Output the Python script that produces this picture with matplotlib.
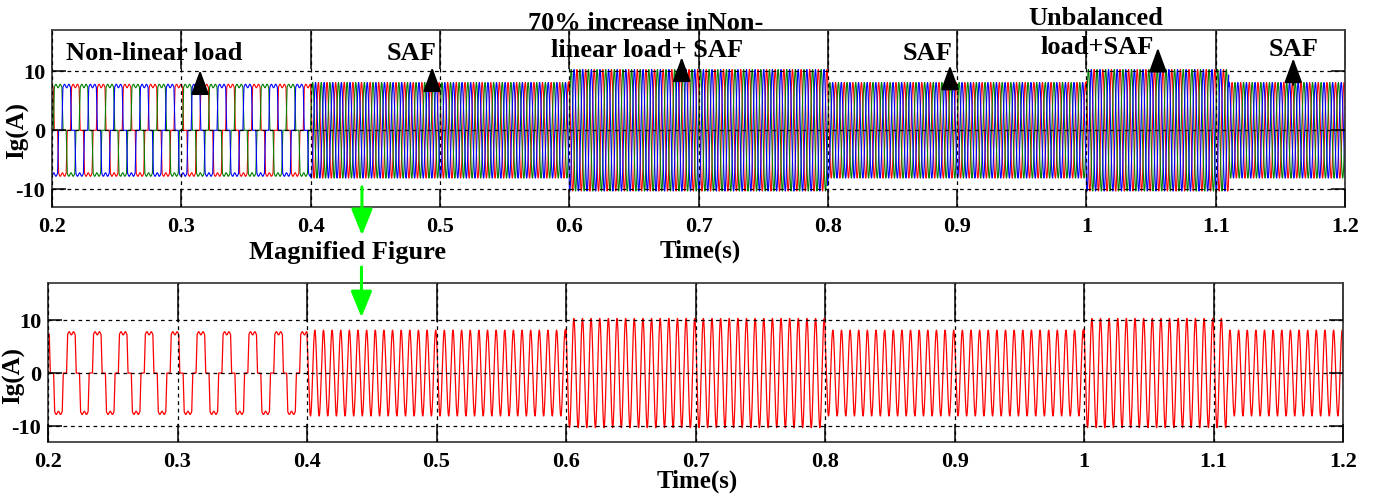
import numpy as np
import matplotlib
matplotlib.use('Agg')
import matplotlib.pyplot as plt
from matplotlib.ticker import FormatStrFormatter

# operating intervals of the run: start, end, peak current (A), waveform shape
seg_start = [0.2, 0.4, 0.6, 0.8, 1.0, 1.11]
seg_end = [0.4, 0.6, 0.8, 1.0, 1.11, 1.2]
seg_amp = [7.5, 8.1, 10.3, 8.1, 10.3, 8.1]
seg_shape = ['rect', 'sine', 'sine', 'sine', 'sine', 'sine']

# three grid phases
phase_colors = ['#ff0000', '#008000', '#0000ff']
phase_shift = [0, -120, 120]
red_phase_deg = 126

f_load = 50       # Hz, rectifier current
f_trace = 150     # Hz, compensated current as recorded
overlap_deg = 14  # commutation overlap of the rectifier pulses
ripple = 0.04

xticks = [0.2, 0.3, 0.4, 0.5, 0.6, 0.7, 0.8, 0.9, 1.0, 1.1, 1.2]
yticks = [-10, 0, 10]

# annotations on the upper plot: (text, x, y)
notes = [("Non-linear load", 0.279, 13.0),
         ("SAF", 0.478, 13.0),
         ("70% increase inNon-", 0.659, 18.1),
         ("linear load+ SAF", 0.660, 13.6),
         ("SAF", 0.877, 13.0),
         ("Unbalanced", 1.007, 19.0),
         ("load+SAF", 1.008, 14.1),
         ("SAF", 1.160, 13.7)]
# black markers: (x, tip, base)
pointers = [(0.3145, 10.2, 6.2), (0.494, 10.7, 6.9), (0.687, 12.4, 8.8),
            (0.8945, 11.0, 7.2), (1.0553, 14.0, 10.2), (1.160, 12.2, 7.7)]

FONT = 'Liberation Serif'
plt.rcParams['font.family'] = FONT
plt.rcParams['font.weight'] = 'bold'
plt.rcParams['axes.unicode_minus'] = False


def rect_wave(t, amp, phi):
    a = (360 * f_load * t + phi) % 360
    pos = np.clip((60 - np.abs(a - 90)) / overlap_deg + 0.5, 0, 1)
    neg = np.clip((60 - np.abs(a - 270)) / overlap_deg + 0.5, 0, 1)
    rip = 1 + ripple * np.cos(np.deg2rad(6 * a))
    return amp * rip * (pos - neg)


def sine_wave(t, amp, phi):
    return amp * np.sin(2 * np.pi * f_trace * t + np.deg2rad(phi))


def phase_current(t, phi):
    i = np.zeros_like(t)
    for s, e, amp, shape in zip(seg_start, seg_end, seg_amp, seg_shape):
        m = (t >= s) & (t <= e)
        if shape == 'rect':
            i[m] = rect_wave(t[m], amp, phi)
        else:
            i[m] = sine_wave(t[m], amp, phi)
    return i


def style_axes(ax):
    ax.set_xlim(0.2, 1.2)
    ax.set_ylim(-13, 17)
    ax.set_xticks(xticks)
    ax.set_yticks(yticks)
    ax.xaxis.set_major_formatter(FormatStrFormatter('%g'))
    ax.grid(True, color='k', linestyle=(0, (3, 3)), linewidth=0.9)
    ax.set_axisbelow(False)
    for sp in ax.spines.values():
        sp.set_color('#404040')
        sp.set_linewidth(1.3)
    ax.tick_params(axis='x', direction='in', length=13, width=1.1,
                   bottom=True, top=False, pad=7, labelsize=16)
    ax.tick_params(axis='y', direction='in', length=10, width=1.1,
                   left=True, right=True, pad=5, labelsize=16)
    top = ax.secondary_xaxis('top')
    top.set_xticks(xticks)
    top.tick_params(direction='in', length=28, width=1.1, labeltop=False)
    top.spines['top'].set_visible(False)


t = np.arange(0.2, 1.2 + 1e-5, 1e-5)

fig = plt.figure(figsize=(13.73, 4.94), dpi=100)
ax1 = fig.add_axes([0.0379, 0.581, 0.9417, 0.3583])
ax2 = fig.add_axes([0.035, 0.1053, 0.9432, 0.3219])

for col, sh in zip(phase_colors, phase_shift):
    ax1.plot(t, phase_current(t, red_phase_deg + sh), color=col, lw=0.8)
ax2.plot(t, phase_current(t, red_phase_deg), color=phase_colors[0], lw=0.9)

for ax, ly in [(ax1, 0.43), (ax2, 0.42)]:
    style_axes(ax)
    ax.set_ylabel('Ig(A)', fontweight='bold', fontsize=18)
    ax.yaxis.set_label_coords(-0.0175, ly)

for txt, x, y in notes:
    ax1.text(x, y, txt, ha='center', va='center', fontweight='bold',
             fontsize=19, clip_on=False)

for x, tip, base in pointers:
    ax1.annotate('', xy=(x, tip), xytext=(x, base), annotation_clip=False,
                 arrowprops=dict(arrowstyle='-|>,head_length=1.5,head_width=0.55',
                                 color='k', lw=1.5, shrinkA=0, shrinkB=0,
                                 mutation_scale=10))

green_arrow = dict(arrowstyle='-|>,head_length=1.6,head_width=0.65',
                   color='#00ff00', lw=2.2, shrinkA=0, shrinkB=0,
                   mutation_scale=10)
ax1.annotate('', xy=(0.4397, -17.8), xytext=(0.4397, -9.6),
             annotation_clip=False, arrowprops=green_arrow)
ax2.annotate('', xy=(0.442, 10.5), xytext=(0.442, 20.0),
             annotation_clip=False, arrowprops=green_arrow)
ax2.text(0.431, 22.7, 'Magnified Figure', ha='center', va='center',
         fontweight='bold', fontsize=19, clip_on=False)

fig.text(700 / 1373, 1 - 251 / 494, 'Time(s)', ha='center', va='center',
         fontweight='bold', fontsize=18)
fig.text(697 / 1373, 1 - 481 / 494, 'Time(s)', ha='center', va='center',
         fontweight='bold', fontsize=18)

fig.savefig('out.png', dpi=100)
